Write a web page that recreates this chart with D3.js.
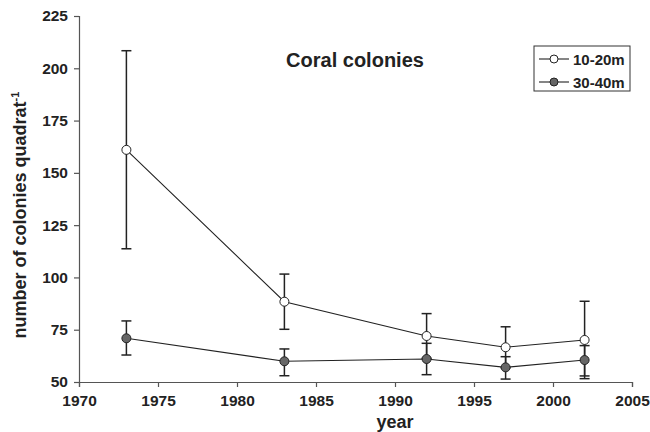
<!DOCTYPE html>
<html>
<head>
<meta charset="utf-8">
<script src="https://cdn.jsdelivr.net/npm/d3@7"></script>
<style>
  body { margin: 0; background: #fff; }
  text { font-family: "Liberation Sans", Arial, sans-serif; font-weight: bold; fill: #222; }
</style>
</head>
<body>
<div id="vis"></div>
<script>
// years sampled
const years = [1973, 1983, 1992, 1997, 2002]

// 10-20m: mean and error bar ends
const shallowMean = [161, 88.4, 72, 66.6, 70.1]
const shallowHigh = [208.4, 101.6, 82.7, 76.4, 88.6]
const shallowLow = [113.7, 75.2, 61.3, 56.8, 51.6]

// 30-40m: mean and error bar ends
const deepMean = [70.9, 59.9, 61, 57, 60.5]
const deepHigh = [79.2, 65.8, 68.5, 62.1, 67.4]
const deepLow = [62.9, 53, 53.5, 51.4, 52.9]

const xTicks = [1970, 1975, 1980, 1985, 1990, 1995, 2000, 2005]
const yTicks = [50, 75, 100, 125, 150, 175, 200, 225]

const seriesNames = ['10-20m', '30-40m']

const width = 650
const height = 432
const margin = { left: 79, right: 18, top: 16, bottom: 50 }

const svg = d3.select('#vis').append('svg')
  .attr('width', width)
  .attr('height', height)

const x = d3.scaleLinear()
  .domain([1970, 2005])
  .range([margin.left, width - margin.right])

const y = d3.scaleLinear()
  .domain([50, 225])
  .range([height - margin.bottom, margin.top])

// axes
svg.append('g')
  .attr('transform', `translate(0,${height - margin.bottom})`)
  .call(d3.axisBottom(x).tickValues(xTicks).tickFormat(d3.format('d')).tickSize(5).tickPadding(8))
svg.append('g')
  .attr('transform', `translate(${margin.left},0)`)
  .call(d3.axisLeft(y).tickValues(yTicks).tickSize(5).tickPadding(6))

svg.selectAll('.domain, .tick line').attr('stroke', '#555').attr('stroke-width', 1.2)
svg.selectAll('.tick text').attr('font-size', 15.5).attr('fill', '#222')
  .style('font-family', '"Liberation Sans", Arial, sans-serif').style('font-weight', 'bold')

// axis titles
svg.append('text')
  .attr('x', x(1990))
  .attr('y', 428)
  .attr('text-anchor', 'middle')
  .attr('font-size', 18)
  .text('year')

const yLabel = svg.append('text')
  .attr('transform', `translate(26,215) rotate(-90)`)
  .attr('text-anchor', 'middle')
  .attr('font-size', 18)
yLabel.append('tspan').text('number of colonies quadrat')
yLabel.append('tspan').attr('font-size', 11).attr('dy', -7).text('-1')

// chart title
svg.append('text')
  .attr('x', 355)
  .attr('y', 67)
  .attr('text-anchor', 'middle')
  .attr('font-size', 20)
  .text('Coral colonies')

const series = [
  { name: seriesNames[0], mean: shallowMean, high: shallowHigh, low: shallowLow, fill: '#fff' },
  { name: seriesNames[1], mean: deepMean, high: deepHigh, low: deepLow, fill: '#666' }
]

const line = d3.line()
  .x((d, i) => x(years[i]))
  .y(d => y(d))

// error bars drawn first, then lines and markers
series.forEach(s => {
  const g = svg.append('g')
  years.forEach((yr, i) => {
    g.append('line')
      .attr('x1', x(yr)).attr('x2', x(yr))
      .attr('y1', y(s.high[i])).attr('y2', y(s.low[i]))
      .attr('stroke', '#222').attr('stroke-width', 1.5)
    ;[s.high[i], s.low[i]].forEach(v => {
      g.append('line')
        .attr('x1', x(yr) - 5).attr('x2', x(yr) + 5)
        .attr('y1', y(v)).attr('y2', y(v))
        .attr('stroke', '#222').attr('stroke-width', 1.5)
    })
  })
})

series.forEach(s => {
  svg.append('path')
    .attr('d', line(s.mean))
    .attr('fill', 'none')
    .attr('stroke', '#222')
    .attr('stroke-width', 1.1)
  svg.append('g').selectAll('circle')
    .data(s.mean)
    .enter()
    .append('circle')
    .attr('cx', (d, i) => x(years[i]))
    .attr('cy', d => y(d))
    .attr('r', 4.5)
    .attr('fill', s.fill)
    .attr('stroke', '#222')
    .attr('stroke-width', 1)
})

// legend
const legend = svg.append('g').attr('transform', 'translate(534,46)')
legend.append('rect')
  .attr('width', 96).attr('height', 45)
  .attr('fill', '#fff').attr('stroke', '#333').attr('stroke-width', 1)
series.forEach((s, i) => {
  const ly = 13 + i * 23
  legend.append('line')
    .attr('x1', 5).attr('x2', 35).attr('y1', ly).attr('y2', ly)
    .attr('stroke', '#222').attr('stroke-width', 1.1)
  legend.append('circle')
    .attr('cx', 20).attr('cy', ly).attr('r', 4)
    .attr('fill', s.fill).attr('stroke', '#222')
  legend.append('text')
    .attr('x', 39).attr('y', ly + 5.5)
    .attr('font-size', 15)
    .text(s.name)
})
</script>
</body>
</html>
